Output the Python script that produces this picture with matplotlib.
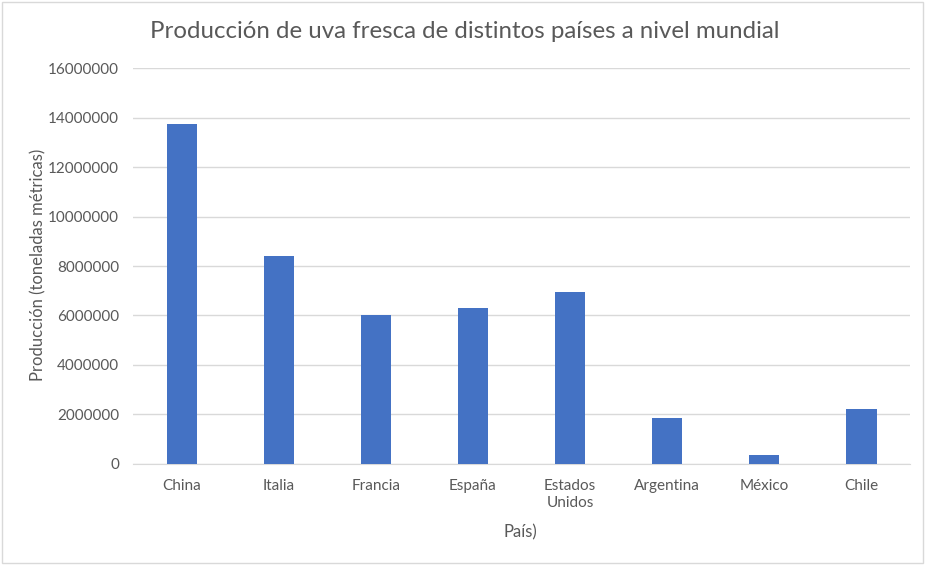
import matplotlib.pyplot as plt
from matplotlib.patches import Rectangle

paises = ['China', 'Italia', 'Francia', 'España', 'Estados\nUnidos',
          'Argentina', 'México', 'Chile']
produccion = [13720000, 8400000, 6000000, 6290000, 6960000,
              1850000, 360000, 2240000]
y_ticks = list(range(0, 16000001, 2000000))

plt.rcParams['font.family'] = ['Lato', 'DejaVu Sans']

fig = plt.figure(figsize=(9.25, 5.65), dpi=100)
ax = fig.add_axes([0.1438, 0.1788, 0.84, 0.7008])

x = range(len(paises))
ax.bar(x, produccion, width=0.31, color='#4472C4', zorder=3)

ax.set_xlim(-0.5, len(paises) - 0.5)
ax.set_ylim(0, 16000000)
ax.set_yticks(y_ticks)
ax.set_yticklabels([str(v) for v in y_ticks])
ax.set_xticks(list(x))
ax.set_xticklabels(paises, linespacing=1.25)

ax.grid(axis='y', color='#d9d9d9', linewidth=1, zorder=0)
for s in ['top', 'right', 'left']:
    ax.spines[s].set_visible(False)
ax.spines['bottom'].set_color('#d9d9d9')
ax.tick_params(axis='both', length=0, colors='#595959', labelsize=11)
ax.tick_params(axis='x', pad=11)
ax.tick_params(axis='y', pad=10)

fig.text(0.502, 0.945, 'Producción de uva fresca de distintos países a nivel mundial',
         ha='center', va='center', fontsize=17.3, color='#595959')
fig.text(0.563, 0.057, 'País)', ha='center', va='center', fontsize=12, color='#595959')
fig.text(0.041, 0.532, 'Producción (toneladas métricas)', ha='center', va='center',
         rotation=90, fontsize=12, color='#595959')

fig.patches.append(Rectangle((0.002, 0.003), 0.996, 0.994, transform=fig.transFigure,
                             fill=False, edgecolor='#d9d9d9', linewidth=1))

fig.savefig('out.png', dpi=100)
